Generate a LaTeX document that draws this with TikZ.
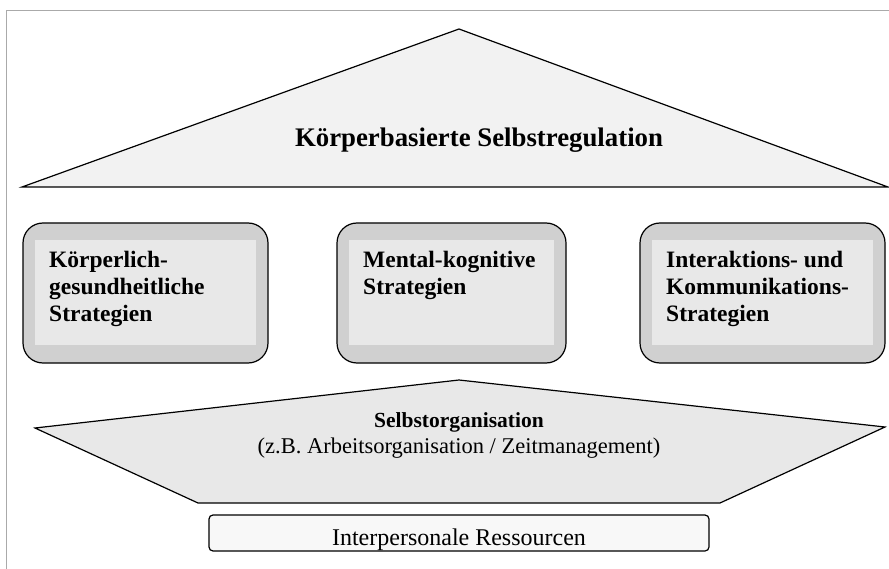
\documentclass[tikz,border=0pt]{standalone}
\usepackage{fontspec}
\setmainfont{Liberation Serif}
\usepackage{xcolor}
\usepackage{tikz}
\definecolor{lgray}{RGB}{242, 242, 242}
\definecolor{mgray}{RGB}{208, 208, 208}
\definecolor{igray}{RGB}{232, 232, 232}
\definecolor{fgray}{RGB}{170, 170, 170}
\definecolor{wgray}{RGB}{248, 248, 248}
\tikzset{
	pillar/.style = {draw, fill = mgray, rounded corners = 20pt, minimum height = 140pt, line width = 1.2pt},
	inner/.style = {fill = igray, minimum height = 105pt},
	ptext/.style = {anchor = base west, inner sep = 0pt, align = left, font = \bfseries\fontsize{23.5}{27}\selectfont}
}

\begin{document}
\begin{tikzpicture}[x = 1pt, y = -1pt]
			\useasboundingbox (0,0) rectangle (889,569);
			\draw [fgray, line width = 1.6pt] (6.5,569) -- (6.5,10.5) -- (889,10.5);
			\coordinate (r1) at (22,187);
			\coordinate (r2) at (459,29);
			\coordinate (r3) at (888,187);
			\draw [fill = lgray, line width = 1.2pt] (r1) -- (r2) -- (r3) -- cycle;
			\node (roof) at (479,147) [anchor = base, font = \bfseries\fontsize{26.8}{30}\selectfont] {Körperbasierte Selbstregulation};
			\node (p1) at (145.5,293) [pillar, minimum width = 245pt] {};
			\node (p2) at (451.5,293) [pillar, minimum width = 229pt] {};
			\node (p3) at (762.5,293) [pillar, minimum width = 245pt] {};
			\node (i1) at (p1) [inner, minimum width = 221pt] {};
			\node (i2) at (p2) [inner, minimum width = 205pt] {};
			\node (i3) at (p3) [inner, minimum width = 221pt] {};
			\node (t1) at (49,322) [ptext] {Körperlich-\\gesundheitliche\\Strategien};
			\node (t2) at (363,295) [ptext] {Mental-kognitive\\Strategien};
			\node (t3) at (666,322) [ptext] {Interaktions- und\\Kommunikations-\\Strategien};
			\coordinate (o1) at (459,380);
			\coordinate (o2) at (885,427);
			\coordinate (o3) at (720,503);
			\coordinate (o4) at (198,503);
			\coordinate (o5) at (35,428);
			\draw [fill = igray, line width = 1.2pt] (o1) -- (o2) -- (o3) -- (o4) -- (o5) -- cycle;
			\node (so) at (459,427) [anchor = base, font = \bfseries\fontsize{21.5}{24}\selectfont] {Selbstorganisation};
			\node (zb) at (459,453) [anchor = base, font = \fontsize{22.5}{25}\selectfont] {(z.B. Arbeitsorganisation / Zeitmanagement)};
			\node (ir) at (459,533) [draw, fill = wgray, rounded corners = 4pt, minimum width = 500pt, minimum height = 36pt, line width = 1.2pt] {};
			\node (irt) at (459,545) [anchor = base, font = \fontsize{24}{27}\selectfont] {Interpersonale Ressourcen};
			\end{tikzpicture}
\end{document}
